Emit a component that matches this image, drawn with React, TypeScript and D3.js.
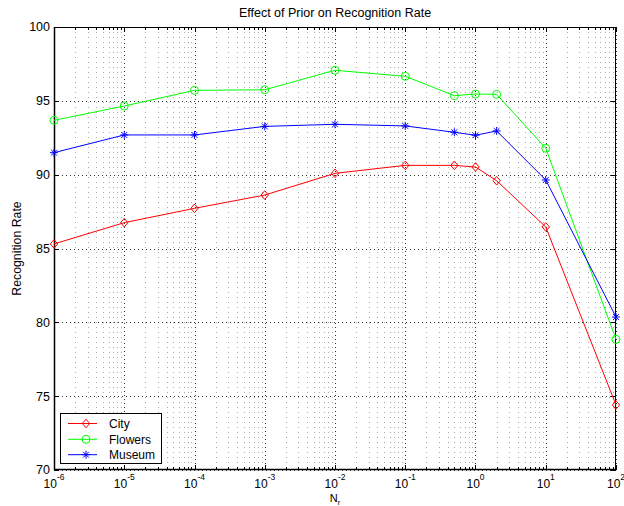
import React from "react";
import * as d3 from "d3";

const xValues = [1e-6, 1e-5, 1e-4, 1e-3, 1e-2, 1e-1, 0.5, 1, 2, 10, 100];
const cityValues = [85.31, 86.75, 87.72, 88.62, 90.09, 90.63, 90.63, 90.52, 89.59, 86.46, 74.4];
const flowersValues = [93.68, 94.65, 95.71, 95.75, 97.07, 96.66, 95.35, 95.46, 95.44, 91.79, 78.85];
const museumValues = [91.49, 92.69, 92.69, 93.27, 93.41, 93.3, 92.87, 92.67, 92.96, 89.64, 80.36];
const seriesNames = ["City", "Flowers", "Museum"];
const seriesColors = ["#ff0000", "#00ff00", "#0000ff"];
const seriesMarkers = ["diamond", "circle", "star"];
const yTicks = [70, 75, 80, 85, 90, 95, 100];
const xExponents = [-6, -5, -4, -3, -2, -1, 0, 1, 2];

const W = 624;
const H = 506;
const L = 54, R = 616, T = 27, B = 470;
const FONT = "'Liberation Sans', Arial, Helvetica, sans-serif";

function Marker({ type, x, y, color }: { type: string; x: number; y: number; color: string }) {
  if (type === "diamond") {
    return (
      <path
        d={`M${x},${y - 4.3}L${x + 3.7},${y}L${x},${y + 4.3}L${x - 3.7},${y}Z`}
        fill="none"
        stroke={color}
        strokeWidth={1}
      />
    );
  }
  if (type === "circle") {
    return <circle cx={x} cy={y} r={4} fill="none" stroke={color} strokeWidth={1} />;
  }
  const s = 4;
  const d = 2.9;
  return (
    <path
      d={`M${x - s},${y}L${x + s},${y}M${x},${y - s}L${x},${y + s}M${x - d},${y - d}L${x + d},${y + d}M${x - d},${y + d}L${x + d},${y - d}`}
      stroke={color}
      strokeWidth={1}
      fill="none"
    />
  );
}

export default function App() {
  const x = d3.scaleLog().domain([1e-6, 1e2]).range([L, R]);
  const y = d3.scaleLinear().domain([70, 100]).range([B, T]);
  const allSeries = [cityValues, flowersValues, museumValues];

  const minorTicks: number[] = [];
  for (const e of xExponents.slice(0, -1)) {
    for (let k = 2; k <= 9; k++) minorTicks.push(k * Math.pow(10, e));
  }

  const line = d3
    .line<[number, number]>()
    .x((d) => x(d[0]))
    .y((d) => y(d[1]));

  return (
    <svg
      width={W}
      height={H}
      style={{ position: "absolute", left: 0, top: 0, background: "#fff" }}
      fontFamily={FONT}
    >
      <rect x={0} y={0} width={W} height={H} fill="#fff" />
      {/* minor vertical grid */}
      {minorTicks.map((t, i) => (
        <line
          key={"mg" + i}
          x1={Math.round(x(t)) + 0.5}
          x2={Math.round(x(t)) + 0.5}
          y1={T}
          y2={B}
          stroke="#aaa"
          strokeWidth={1}
          strokeDasharray="1,4"
        />
      ))}
      {/* major vertical grid */}
      {xExponents.map((e) => (
        <line
          key={"vg" + e}
          x1={Math.round(x(Math.pow(10, e))) + 0.5}
          x2={Math.round(x(Math.pow(10, e))) + 0.5}
          y1={T}
          y2={B}
          stroke="#333"
          strokeWidth={1}
          strokeDasharray="1,3"
        />
      ))}
      {/* horizontal grid */}
      {yTicks.map((t) => (
        <line
          key={"hg" + t}
          x1={L}
          x2={R}
          y1={Math.round(y(t)) + 0.5}
          y2={Math.round(y(t)) + 0.5}
          stroke="#333"
          strokeWidth={1}
          strokeDasharray="1,3"
        />
      ))}
      {/* ticks */}
      {xExponents.map((e) => {
        const px = Math.round(x(Math.pow(10, e))) + 0.5;
        return (
          <g key={"xt" + e}>
            <line x1={px} x2={px} y1={B} y2={B - 5} stroke="#000" />
            <line x1={px} x2={px} y1={T} y2={T + 5} stroke="#000" />
          </g>
        );
      })}
      {minorTicks.map((t, i) => {
        const px = Math.round(x(t)) + 0.5;
        return (
          <g key={"mt" + i}>
            <line x1={px} x2={px} y1={B} y2={B - 3} stroke="#000" />
            <line x1={px} x2={px} y1={T} y2={T + 3} stroke="#000" />
          </g>
        );
      })}
      {yTicks.map((t) => {
        const py = Math.round(y(t)) + 0.5;
        return (
          <g key={"yt" + t}>
            <line x1={L} x2={L + 5} y1={py} y2={py} stroke="#000" />
            <line x1={R} x2={R - 5} y1={py} y2={py} stroke="#000" />
          </g>
        );
      })}
      {/* box */}
      <rect x={L + 0.5} y={T + 0.5} width={R - L - 1} height={B - T - 1} fill="none" stroke="#000" strokeWidth={1} />
      <line x1={L} x2={R} y1={B - 0.5} y2={B - 0.5} stroke="#000" strokeWidth={1.5} />
      <line x1={L + 0.5} x2={L + 0.5} y1={T} y2={B} stroke="#000" strokeWidth={1.5} />

      {/* series */}
      {allSeries.map((vals, si) => {
        const pts = xValues.map((xv, i) => [xv, vals[i]] as [number, number]);
        return (
          <g key={"s" + si}>
            <path d={line(pts) || ""} fill="none" stroke={seriesColors[si]} strokeWidth={1} />
            {pts.map((p, i) => (
              <Marker key={i} type={seriesMarkers[si]} x={x(p[0])} y={y(p[1])} color={seriesColors[si]} />
            ))}
          </g>
        );
      })}

      {/* y tick labels */}
      {yTicks.map((t) => (
        <text key={"yl" + t} x={L - 4} y={y(t)} dy="0.35em" textAnchor="end" fontSize={12.5} fill="#000">
          {t}
        </text>
      ))}
      {/* x tick labels */}
      {xExponents.map((e) => (
        <text key={"xl" + e} x={x(Math.pow(10, e))} y={488} textAnchor="middle" fontSize={12} fill="#000">
          10
          <tspan fontSize={8.5} dy={-8}>
            {e}
          </tspan>
        </text>
      ))}

      {/* title */}
      <text x={(L + R) / 2} y={17} textAnchor="middle" fontSize={12.5} fill="#000">
        Effect of Prior on Recognition Rate
      </text>
      {/* x label */}
      <text x={(L + R) / 2} y={502} textAnchor="middle" fontSize={11} fill="#000">
        N
        <tspan fontSize={7.5} dy={2.5}>
          r
        </tspan>
      </text>
      {/* y label */}
      <text
        transform={`translate(21,${(T + B) / 2}) rotate(-90)`}
        textAnchor="middle"
        fontSize={12.3}
        fill="#000"
      >
        Recognition Rate
      </text>

      {/* legend */}
      <rect x={60.5} y={413.5} width={101} height={50} fill="#fff" stroke="#000" strokeWidth={1} />
      {seriesNames.map((n, i) => {
        const ly = [423.5, 439.3, 454.7][i];
        return (
          <g key={"lg" + i}>
            <line x1={68} x2={97} y1={ly} y2={ly} stroke={seriesColors[i]} strokeWidth={1} />
            <Marker type={seriesMarkers[i]} x={86} y={ly} color={seriesColors[i]} />
            <text x={109} y={ly} dy="0.35em" fontSize={12} fill="#000">
              {n}
            </text>
          </g>
        );
      })}
    </svg>
  );
}
